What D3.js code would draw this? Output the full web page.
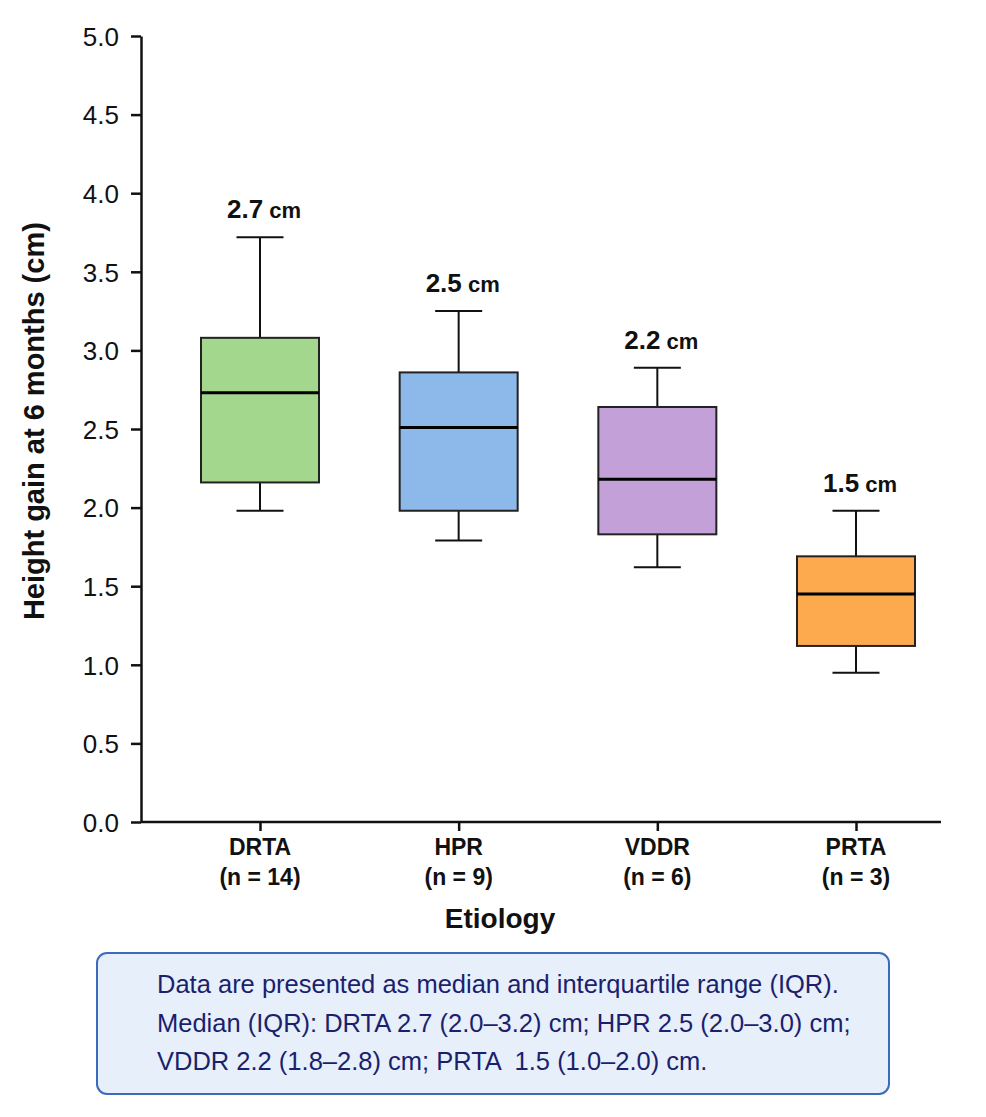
<!DOCTYPE html>
<html>
<head>
<meta charset="utf-8">
<script src="https://cdn.jsdelivr.net/npm/d3@7"></script>
<style>
  body { margin: 0; background: #fff; }
  svg { display: block; font-family: "Liberation Sans", Arial, sans-serif; }
</style>
</head>
<body>
<svg id="chart"></svg>
<script>
// height gain at 6 months by etiology, box plots
const etiologies = ["DRTA", "HPR", "VDDR", "PRTA"];
const counts = [14, 9, 6, 3];
const medianLabels = ["2.7", "2.5", "2.2", "1.5"];
const whiskerLow = [1.98, 1.79, 1.62, 0.95];
const q1 = [2.16, 1.98, 1.83, 1.12];
const median = [2.73, 2.51, 2.18, 1.45];
const q3 = [3.08, 2.86, 2.64, 1.69];
const whiskerHigh = [3.72, 3.25, 2.89, 1.98];
const fills = ["#a4d78e", "#8db9ea", "#c4a0d8", "#fdaa4e"];
const yTicks = [0, 0.5, 1, 1.5, 2, 2.5, 3, 3.5, 4, 4.5, 5];
const noteLines = [
  "Data are presented as median and interquartile range (IQR).",
  "Median (IQR): DRTA 2.7 (2.0–3.2) cm; HPR 2.5 (2.0–3.0) cm;",
  "VDDR 2.2 (1.8–2.8) cm; PRTA  1.5 (1.0–2.0) cm.",
];

const width = 986;
const height = 1117;
const plotLeft = 141;
const plotRight = 941;
const plotTop = 36;
const plotBottom = 822;
const boxWidth = 118;
const capWidth = 47;

const data = etiologies.map((name, i) => ({
  name,
  n: counts[i],
  label: medianLabels[i],
  lo: whiskerLow[i],
  q1: q1[i],
  med: median[i],
  q3: q3[i],
  hi: whiskerHigh[i],
  fill: fills[i],
}));

const y = d3.scaleLinear().domain([0, 5]).range([plotBottom, plotTop]);
const x = d3.scalePoint().domain(etiologies).range([260, 856]);

const svg = d3.select("#chart").attr("width", width).attr("height", height);

// y axis
svg
  .append("g")
  .attr("transform", `translate(${plotLeft},0)`)
  .call(
    d3
      .axisLeft(y)
      .tickValues(yTicks)
      .tickFormat(d3.format(".1f"))
      .tickSize(10)
      .tickSizeOuter(0)
      .tickPadding(12)
  )
  .call((g) => g.select(".domain").attr("stroke", "#111").attr("stroke-width", 2.5))
  .call((g) => g.selectAll(".tick line").attr("stroke", "#111").attr("stroke-width", 2.5))
  .call((g) =>
    g
      .selectAll(".tick text")
      .attr("fill", "#111")
      .style("font-size", "26px")
      .attr("dy", "0.36em")
  );

// x axis
svg
  .append("line")
  .attr("x1", plotLeft)
  .attr("x2", plotRight)
  .attr("y1", plotBottom)
  .attr("y2", plotBottom)
  .attr("stroke", "#111")
  .attr("stroke-width", 2.5);

svg
  .append("g")
  .attr("transform", `translate(0,${plotBottom})`)
  .call(d3.axisBottom(x).tickSize(9).tickFormat(""))
  .call((g) => g.select(".domain").remove())
  .call((g) => g.selectAll(".tick line").attr("stroke", "#111").attr("stroke-width", 2.5));

const xLabels = svg
  .append("g")
  .selectAll("text")
  .data(data)
  .join("text")
  .attr("text-anchor", "middle")
  .attr("fill", "#111")
  .style("font-size", "23px")
  .style("font-weight", "bold");
xLabels
  .append("tspan")
  .attr("x", (d) => x(d.name))
  .attr("y", plotBottom + 33)
  .text((d) => d.name);
xLabels
  .append("tspan")
  .attr("x", (d) => x(d.name))
  .attr("y", plotBottom + 63)
  .text((d) => `(n = ${d.n})`);

// axis titles
svg
  .append("text")
  .attr("x", 500)
  .attr("y", 928)
  .attr("text-anchor", "middle")
  .attr("fill", "#111")
  .style("font-size", "28px")
  .style("font-weight", "bold")
  .text("Etiology");

svg
  .append("text")
  .attr("transform", `translate(44,${y(2.55)}) rotate(-90)`)
  .attr("text-anchor", "middle")
  .attr("fill", "#111")
  .style("font-size", "29px")
  .style("font-weight", "bold")
  .text("Height gain at 6 months (cm)");

// boxes
const box = svg.append("g").selectAll("g").data(data).join("g");

box
  .append("line")
  .attr("x1", (d) => x(d.name))
  .attr("x2", (d) => x(d.name))
  .attr("y1", (d) => y(d.hi))
  .attr("y2", (d) => y(d.lo))
  .attr("stroke", "#111")
  .attr("stroke-width", 2);

box
  .selectAll(".cap")
  .data((d) => [
    { name: d.name, val: d.hi },
    { name: d.name, val: d.lo },
  ])
  .join("line")
  .attr("class", "cap")
  .attr("x1", (d) => x(d.name) - capWidth / 2)
  .attr("x2", (d) => x(d.name) + capWidth / 2)
  .attr("y1", (d) => y(d.val))
  .attr("y2", (d) => y(d.val))
  .attr("stroke", "#111")
  .attr("stroke-width", 2);

box
  .append("rect")
  .attr("x", (d) => x(d.name) - boxWidth / 2)
  .attr("width", boxWidth)
  .attr("y", (d) => y(d.q3))
  .attr("height", (d) => y(d.q1) - y(d.q3))
  .attr("fill", (d) => d.fill)
  .attr("stroke", "#222")
  .attr("stroke-width", 2);

box
  .append("line")
  .attr("x1", (d) => x(d.name) - boxWidth / 2)
  .attr("x2", (d) => x(d.name) + boxWidth / 2)
  .attr("y1", (d) => y(d.med))
  .attr("y2", (d) => y(d.med))
  .attr("stroke", "#000")
  .attr("stroke-width", 3);

const medText = box
  .append("text")
  .attr("x", (d) => x(d.name) + 4)
  .attr("y", (d) => y(d.hi) - 19)
  .attr("text-anchor", "middle")
  .attr("fill", "#111")
  .style("font-weight", "bold");
medText
  .append("tspan")
  .style("font-size", "26px")
  .text((d) => d.label);
medText
  .append("tspan")
  .style("font-size", "22px")
  .text(" cm");

// note box
const note = svg.append("g");
note
  .append("rect")
  .attr("x", 97)
  .attr("y", 953)
  .attr("width", 792)
  .attr("height", 141)
  .attr("rx", 10)
  .attr("fill", "#e7effb")
  .attr("stroke", "#3b6bbf")
  .attr("stroke-width", 2);
note
  .selectAll("text")
  .data(noteLines)
  .join("text")
  .attr("x", 157)
  .attr("y", (d, i) => 993 + i * 38.5)
  .attr("fill", "#1b1f6e")
  .style("font-size", "25.5px")
  .style("white-space", "pre")
  .text((d) => d);
</script>
</body>
</html>
